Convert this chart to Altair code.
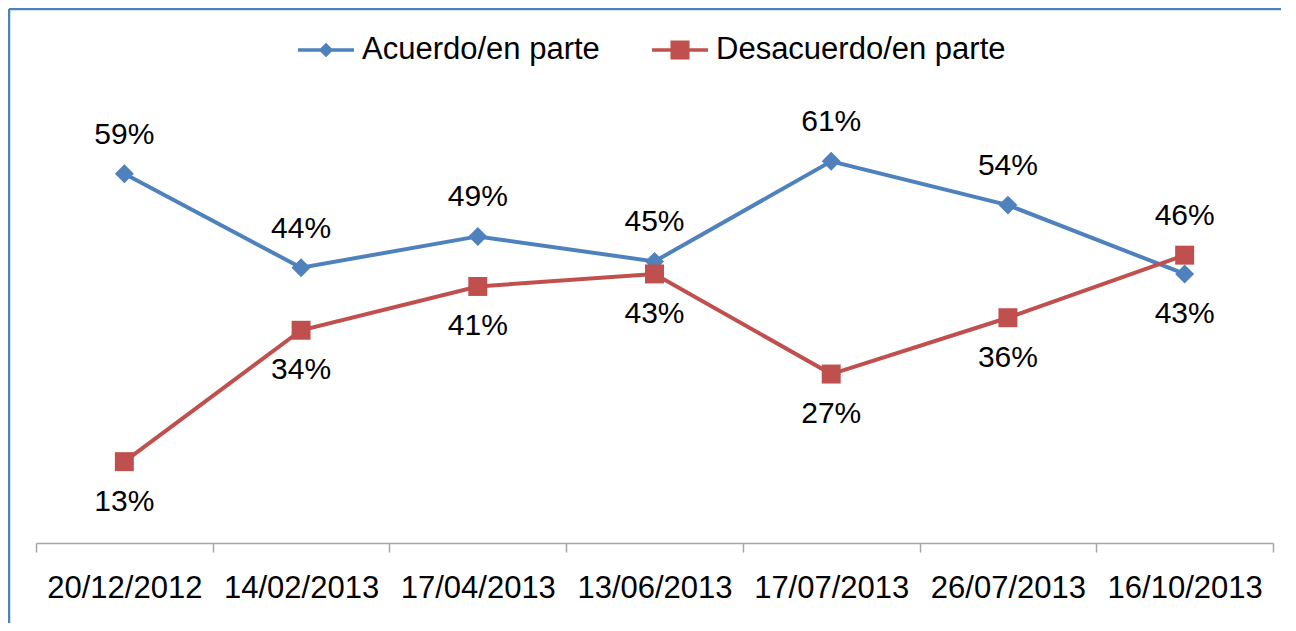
import altair as alt
import pandas as pd

dates = ["20/12/2012", "14/02/2013", "17/04/2013", "13/06/2013",
         "17/07/2013", "26/07/2013", "16/10/2013"]
series_names = ["Acuerdo/en parte", "Desacuerdo/en parte"]
acuerdo = [59, 44, 49, 45, 61, 54, 43]
desacuerdo = [13, 34, 41, 43, 27, 36, 46]
acuerdo_label_side = ["above", "above", "above", "above", "above", "above", "below"]
desacuerdo_label_side = ["below", "below", "below", "below", "below", "below", "above"]
colors = ["#4F81BD", "#C0504D"]

rows = []
for i, d in enumerate(dates):
    rows.append({"date": d, "series": series_names[0], "value": acuerdo[i],
                 "side": acuerdo_label_side[i], "label": f"{acuerdo[i]}%"})
    rows.append({"date": d, "series": series_names[1], "value": desacuerdo[i],
                 "side": desacuerdo_label_side[i], "label": f"{desacuerdo[i]}%"})
df = pd.DataFrame(rows)

FONT = "Liberation Sans"
W, H = 1237, 438

xenc = alt.X("date:N", sort=dates, bandPosition=0.5,
             scale=alt.Scale(type="band", paddingInner=0, paddingOuter=0),
             axis=alt.Axis(title=None, labelAngle=0, labelFontSize=31, labelFont=FONT,
                           labelColor="#000000", domainColor="#A6A6A6", domainWidth=1.5,
                           tickColor="#A6A6A6", tickWidth=1.5, tickSize=9, tickBand="extent",
                           labelPadding=21, grid=False))
yenc = alt.Y("value:Q", scale=alt.Scale(domain=[0, 70]), axis=None)
cscale = alt.Scale(domain=series_names, range=colors)

base = alt.Chart(df)

line_path = "M-1,-0.06H1V0.06H-1Z"
diamond_path = line_path + " M0,-0.26L0.26,0L0,0.26L-0.26,0Z"
square_path = line_path + " M-0.34,-0.34H0.34V0.34H-0.34Z"

leg = alt.Legend(title=None, orient="none", direction="horizontal",
                 legendX=262, legendY=-83, labelFont=FONT, labelFontSize=31,
                 labelColor="#000000", symbolSize=3136, labelOffset=8,
                 columnPadding=52, labelLimit=500, symbolOpacity=1,
                 symbolStrokeWidth=0)

legend_layer = base.mark_point(filled=True, opacity=0).encode(
    x=xenc, y=yenc,
    color=alt.Color("series:N", scale=cscale, legend=leg),
    shape=alt.Shape("series:N", scale=alt.Scale(domain=series_names,
                                                 range=[diamond_path, square_path]),
                    legend=leg))

frame = alt.Chart(pd.DataFrame({"k": [0]}))
border_top = frame.mark_rule(stroke="#4F81BD", strokeWidth=2.5).encode(
    x=alt.value(-27), x2=alt.value(W + 8), y=alt.value(-96))
border_left = frame.mark_rule(stroke="#4F81BD", strokeWidth=2.5).encode(
    x=alt.value(-27), y=alt.value(-96), y2=alt.value(H + 80))

lines = base.mark_line(strokeWidth=4).encode(
    x=xenc, y=yenc, color=alt.Color("series:N", scale=cscale, legend=None),
    detail="series:N")

pts_a = base.transform_filter(alt.datum.series == series_names[0]).mark_point(
    shape="diamond", filled=True, size=360, opacity=1
).encode(x=xenc, y=yenc, color=alt.Color("series:N", scale=cscale, legend=None))

pts_d = base.transform_filter(alt.datum.series == series_names[1]).mark_point(
    shape="square", filled=True, size=360, opacity=1
).encode(x=xenc, y=yenc, color=alt.Color("series:N", scale=cscale, legend=None))

txt_above = base.transform_filter(alt.datum.side == "above").mark_text(
    font=FONT, fontSize=30, color="#000000", dy=-39
).encode(x=xenc, y=yenc, text="label:N")

txt_below = base.transform_filter(alt.datum.side == "below").mark_text(
    font=FONT, fontSize=30, color="#000000", dy=40
).encode(x=xenc, y=yenc, text="label:N")

chart = alt.layer(legend_layer, border_top, border_left, lines, pts_a, pts_d,
                  txt_above, txt_below).properties(
    width=W, height=H,
    autosize=alt.AutoSizeParams(type="none"),
    padding={"left": 28, "top": 97, "right": 15, "bottom": 80},
    background="#FFFFFF"
).configure_view(strokeWidth=0)

chart.save("out.html", embed_options={"renderer": "svg", "actions": False})
